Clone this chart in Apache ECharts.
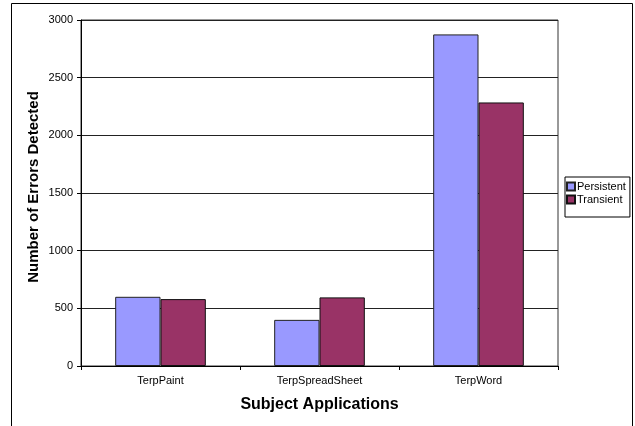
<!DOCTYPE html>
<html>
<head>
<meta charset="utf-8">
<script src="https://cdn.jsdelivr.net/npm/echarts@6/dist/echarts.min.js"></script>
<style>
  html, body { margin: 0; padding: 0; background: #fff; }
  #chart { width: 635px; height: 426px; }
</style>
</head>
<body>
<div id="chart"></div>
<script>
// Error counts per subject application
const categories = ['TerpPaint', 'TerpSpreadSheet', 'TerpWord'];
const persistent = [600, 400, 2875];
const transient = [580, 595, 2285];
const yTicks = { min: 0, max: 3000, interval: 500 };

const FONT = '"Liberation Sans", Arial, sans-serif';

const chart = echarts.init(document.getElementById('chart'), null, { renderer: 'canvas' });

chart.setOption({
  animation: false,
  backgroundColor: '#fff',
  textStyle: { fontFamily: FONT },
  graphic: [
    {
      // chart frame, open at the bottom edge of the page
      type: 'rect',
      shape: { x: 11.5, y: 3.5, width: 621, height: 460 },
      style: { fill: 'none', stroke: '#000', lineWidth: 1 },
      silent: true,
      z: 100
    }
  ],
  grid: {
    left: 81, right: 77, top: 20, bottom: 60,
    show: true, borderColor: '#333', borderWidth: 1, backgroundColor: 'transparent'
  },
  legend: {
    orient: 'vertical',
    left: 565, top: 177,
    itemWidth: 8, itemHeight: 8, itemGap: 2,
    icon: 'rect',
    borderColor: '#000', borderWidth: 1,
    padding: [4, 4, 12, 1],
    textStyle: { fontFamily: FONT, fontSize: 11, color: '#000', padding: [0, 0, 0, -3] },
    data: ['Persistent', 'Transient']
  },
  xAxis: {
    type: 'category',
    data: categories,
    name: 'Subject Applications',
    nameLocation: 'middle',
    nameGap: 31,
    nameMoveOverlap: false,
    nameTextStyle: { fontFamily: FONT, fontSize: 16, fontWeight: 'bold', color: '#000' },
    axisLine: { lineStyle: { color: '#000', width: 1 } },
    axisTick: { show: true, length: 4, lineStyle: { color: '#000' } },
    axisLabel: { fontFamily: FONT, fontSize: 11, color: '#000', margin: 9 }
  },
  yAxis: {
    type: 'value',
    min: yTicks.min, max: yTicks.max, interval: yTicks.interval,
    name: 'Number of Errors Detected',
    nameLocation: 'middle',
    nameGap: 40,
    nameMoveOverlap: false,
    nameTextStyle: {
      fontFamily: FONT, fontSize: 15, fontWeight: 'bold', color: '#000',
      padding: [0, 0, 0, 12]
    },
    axisLine: { show: true, lineStyle: { color: '#000', width: 1 } },
    axisTick: { show: true, length: 4, lineStyle: { color: '#000' } },
    axisLabel: {
      fontFamily: FONT, fontSize: 11, color: '#000', margin: 8,
      formatter: (v) => String(v)
    },
    splitLine: { show: true, lineStyle: { color: '#222', width: 1 } }
  },
  series: [
    {
      name: 'Persistent',
      type: 'bar',
      data: persistent,
      barGap: '0%',
      barCategoryGap: '43%',
      itemStyle: { color: '#9999FF', borderColor: '#222', borderWidth: 1 }
    },
    {
      name: 'Transient',
      type: 'bar',
      data: transient,
      barGap: '0%',
      barCategoryGap: '43%',
      itemStyle: { color: '#993366', borderColor: '#111', borderWidth: 1 }
    }
  ]
});
</script>
</body>
</html>
